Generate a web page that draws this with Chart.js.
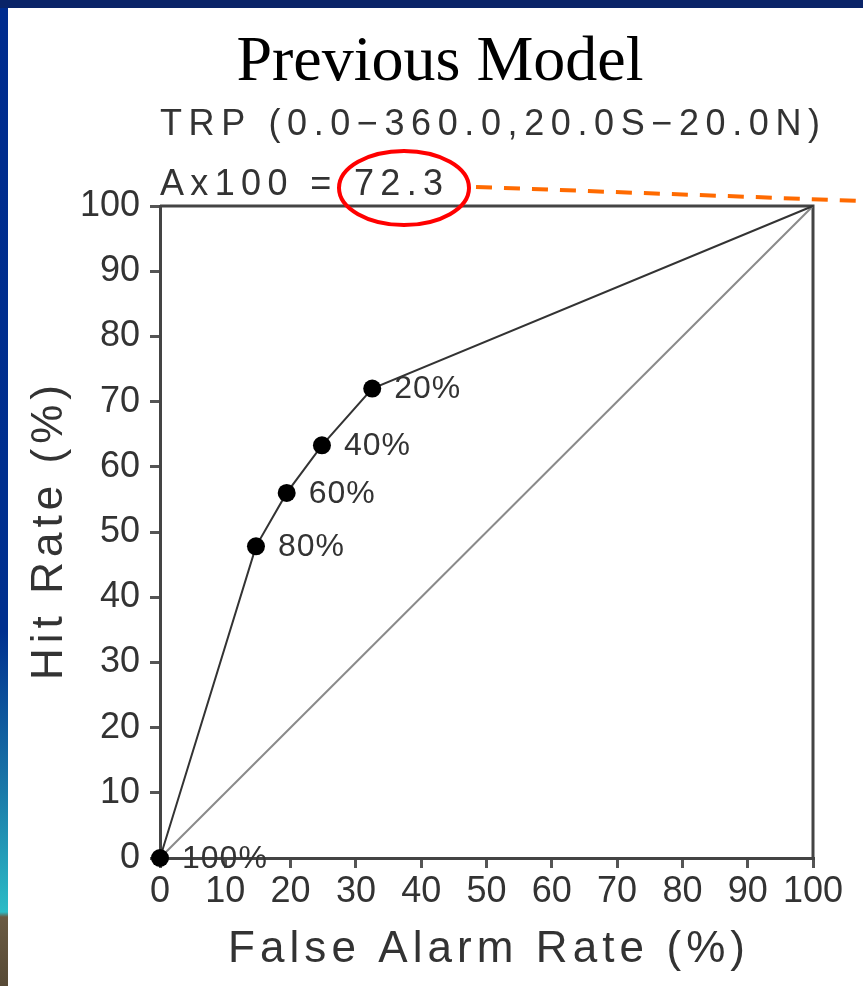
<!DOCTYPE html>
<html>
<head>
<meta charset="utf-8">
<script src="https://cdn.jsdelivr.net/npm/chart.js@4.4.1/dist/chart.umd.min.js"></script>
<style>
  html, body { margin: 0; padding: 0; background: #fff; }
  #wrap { width: 863px; height: 986px; position: relative; }
</style>
</head>
<body>
<div id="wrap"><canvas id="rocChart"></canvas></div>
<script>
// ROC curve, previous model
const falseAlarm = [0, 14.7, 19.4, 24.8, 32.5, 100];
const hitRate = [0, 47.8, 56.0, 63.3, 72.0, 100];
const probLabels = ['100%', '80%', '60%', '40%', '20%', ''];
const pointSizes = [9, 9, 9, 9, 9, 0];
const refX = [0, 100];
const refY = [0, 100];

const titleText = 'Previous Model';
const subtitleText = 'TRP (0.0\u2212360.0,20.0S\u221220.0N)';
const scoreLabel = 'Ax100 = ';
const scoreValue = '72.3';
const xTitle = 'False Alarm Rate (%)';
const yTitle = 'Hit Rate (%)';

const sansFont = '"Liberation Sans", Arial, sans-serif';

// stretch text to a given width with letter spacing
function fitText(ctx, text, x, y, width) {
    ctx.letterSpacing = '0px';
    const w = ctx.measureText(text).width;
    const ls = (width - w) / (text.length - 1);
    ctx.letterSpacing = ls + 'px';
    ctx.textAlign = 'left';
    ctx.fillText(text, x, y);
    ctx.letterSpacing = '0px';
}

const pagePlugin = {
    id: 'page',
    beforeDraw(chart) {
        const ctx = chart.ctx;
        ctx.save();
        ctx.fillStyle = '#0a2468';
        ctx.fillRect(0, 0, chart.width, chart.height);
        ctx.fillStyle = '#ffffff';
        ctx.fillRect(8, 8, chart.width - 8, chart.height - 8);
        const g = ctx.createLinearGradient(0, 0, 0, chart.height);
        g.addColorStop(0, '#002c8e');
        g.addColorStop(0.64, '#00308f');
        g.addColorStop(0.80, '#1a78a8');
        g.addColorStop(0.925, '#2cbcc6');
        g.addColorStop(0.93, '#6a5a42');
        g.addColorStop(1, '#574a36');
        ctx.fillStyle = g;
        ctx.fillRect(0, 8, 8, chart.height - 8);
        ctx.restore();
    },
    beforeDatasetsDraw(chart) {
        const ctx = chart.ctx;
        const a = chart.chartArea;
        ctx.save();
        ctx.strokeStyle = '#444';
        ctx.lineWidth = 3;
        ctx.beginPath();
        ctx.moveTo(a.left, a.top);
        ctx.lineTo(a.right, a.top);
        ctx.lineTo(a.right, a.bottom);
        ctx.stroke();
        ctx.restore();
    },
    afterDatasetsDraw(chart) {
        const ctx = chart.ctx;
        const meta = chart.getDatasetMeta(0);
        ctx.save();
        ctx.fillStyle = '#333';
        ctx.font = '32px ' + sansFont;
        ctx.textBaseline = 'middle';
        ctx.letterSpacing = '1px';
        meta.data.forEach((pt, i) => {
            if (probLabels[i]) ctx.fillText(probLabels[i], pt.x + 22, pt.y + 1);
        });
        ctx.restore();
    },
    afterDraw(chart) {
        const ctx = chart.ctx;
        const a = chart.chartArea;
        ctx.save();
        // main title
        ctx.fillStyle = '#000';
        ctx.font = '64px "Liberation Serif", "Times New Roman", serif';
        ctx.textAlign = 'center';
        ctx.textBaseline = 'alphabetic';
        ctx.fillText(titleText, 440, 80);

        ctx.fillStyle = '#333';
        ctx.font = '36px ' + sansFont;
        fitText(ctx, subtitleText, a.left, 135, 660);
        fitText(ctx, scoreLabel + scoreValue, a.left, 195, 283);

        // axis titles
        ctx.font = '44px ' + sansFont;
        fitText(ctx, xTitle, 228, 962, 517);
        ctx.save();
        ctx.translate(62, 680);
        ctx.rotate(-Math.PI / 2);
        fitText(ctx, yTitle, 0, 0, 295);
        ctx.restore();

        // highlight ellipse around the score
        ctx.strokeStyle = '#ff0000';
        ctx.lineWidth = 4;
        ctx.beginPath();
        ctx.ellipse(404, 188, 65, 37, 0, 0, Math.PI * 2);
        ctx.stroke();

        // dashed pointer line
        ctx.strokeStyle = '#ff6a00';
        ctx.lineWidth = 4;
        ctx.setLineDash([16, 12]);
        ctx.beginPath();
        ctx.moveTo(476, 187);
        ctx.lineTo(863, 201);
        ctx.stroke();
        ctx.restore();
    }
};

const ctx = document.getElementById('rocChart').getContext('2d');
new Chart(ctx, {
    type: 'scatter',
    data: {
        datasets: [{
            label: 'ROC',
            data: falseAlarm.map((x, i) => ({ x: x, y: hitRate[i] })),
            showLine: true,
            borderColor: '#333',
            borderWidth: 2,
            pointRadius: pointSizes,
            pointBackgroundColor: '#000',
            pointBorderColor: '#000',
            pointBorderWidth: 0,
            clip: false,
            order: 1
        }, {
            label: 'No skill',
            data: refX.map((x, i) => ({ x: x, y: refY[i] })),
            showLine: true,
            borderColor: '#8a8a8a',
            borderWidth: 2,
            pointRadius: 0,
            order: 2
        }]
    },
    options: {
        responsive: true,
        maintainAspectRatio: false,
        animation: false,
        layout: {
            padding: { top: 206, right: 50, left: 0, bottom: 0 }
        },
        plugins: {
            legend: { display: false },
            tooltip: { enabled: false }
        },
        scales: {
            x: {
                type: 'linear',
                min: 0,
                max: 100,
                ticks: {
                    stepSize: 10,
                    color: '#333',
                    padding: 2,
                    maxRotation: 0,
                    font: { family: sansFont, size: 36 }
                },
                grid: {
                    drawOnChartArea: false,
                    drawTicks: true,
                    tickLength: 10,
                    color: '#555',
                    lineWidth: 3
                },
                border: { display: true, color: '#444', width: 3 },
                afterFit(scale) { scale.height = 128; }
            },
            y: {
                type: 'linear',
                min: 0,
                max: 100,
                ticks: {
                    stepSize: 10,
                    color: '#333',
                    padding: 10,
                    font: { family: sansFont, size: 36 }
                },
                grid: {
                    drawOnChartArea: false,
                    drawTicks: true,
                    tickLength: 10,
                    color: '#555',
                    lineWidth: 3
                },
                border: { display: true, color: '#444', width: 3 },
                afterFit(scale) { scale.width = 160; }
            }
        }
    },
    plugins: [pagePlugin]
});
</script>
</body>
</html>
